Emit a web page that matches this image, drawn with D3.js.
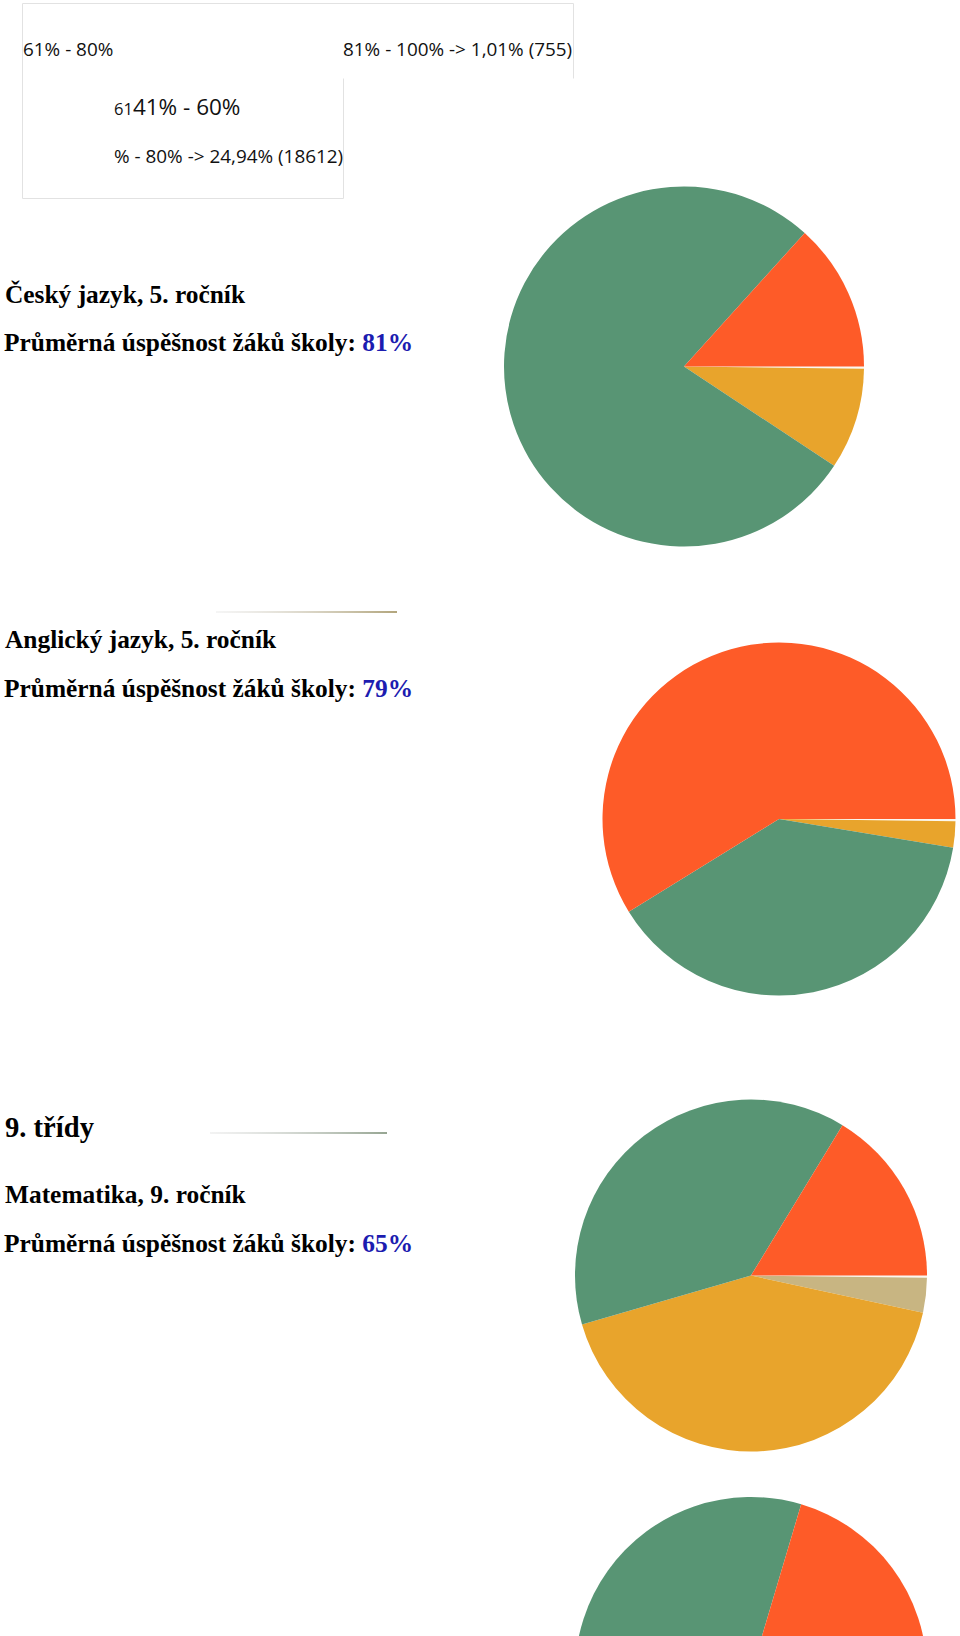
<!DOCTYPE html>
<html>
<head>
<meta charset="utf-8">
<script src="https://cdn.jsdelivr.net/npm/d3@7"></script>
<style>
  html, body { margin: 0; padding: 0; background: #fff; }
  svg { display: block; }
</style>
</head>
<body>
<svg id="chart" width="960" height="1636"></svg>
<script>
// ---- data ----
const bands = ["81% - 100%", "61% - 80%", "41% - 60%", "21% - 40%", "0% - 20%"];
const bandColors = ["#fbf8f0", "#c8b582", "#e8a42c", "#589574", "#fe5b28"];

const subjects = ["Český jazyk, 5. ročník", "Anglický jazyk, 5. ročník", "Matematika, 9. ročník"];
const schoolAverages = ["81%", "79%", "65%"];
const sectionHeading = "9. třídy";

// shares (%) per band, clockwise from 3 o'clock
const czech5 = [0.2, 0, 9.1, 77.4, 13.3];
const english5 = [0.2, 0, 2.4, 38.6, 58.8];
const math9 = [0.2, 3.2, 42.1, 38.2, 16.3];
const nextPie = [0.2, 0, 40.0, 39.4, 20.4];

const legendTop = ["61% - 80%", "81% - 100% -> 1,01% (755)"];
const legendMid = ["61", "41% - 60%"];
const legendBottom = "% - 80% -> 24,94% (18612)";

// ---- drawing ----
const svg = d3.select("#chart");
const sans = "'Open Sans', 'Noto Sans', sans-serif";
const serif = "'Liberation Serif', 'Times New Roman', serif";

// legend box (two overlapping frames)
const frame = svg.append("g").attr("fill", "none").attr("stroke", "#e2e2e2").attr("stroke-width", 1);
frame.append("path").attr("d", "M22.5,3.5 H573.5 V78.5 M22.5,3.5 V198.5 H343.5 V78.5");

svg.append("text").attr("x", 23).attr("y", 56).attr("font-family", sans).attr("font-size", 18.9).attr("fill", "#111").text(legendTop[0]);
svg.append("text").attr("x", 343).attr("y", 56).attr("font-family", sans).attr("font-size", 18.9).attr("fill", "#111").text(legendTop[1]);
const mid = svg.append("text").attr("x", 114).attr("y", 115).attr("font-family", sans).attr("fill", "#111");
mid.append("tspan").attr("font-size", 16.5).text(legendMid[0]);
mid.append("tspan").attr("font-size", 22.5).text(legendMid[1]);
svg.append("text").attr("x", 114).attr("y", 163).attr("font-family", sans).attr("font-size", 18.9).attr("fill", "#111").text(legendBottom);

// titles
function titleBlock(y1, y2, subject, avg) {
  svg.append("text").attr("x", 5).attr("y", y1).attr("font-family", serif).attr("font-weight", "bold")
    .attr("font-size", 25.4).attr("fill", "#000").text(subject);
  const t = svg.append("text").attr("x", 4).attr("y", y2).attr("font-family", serif).attr("font-weight", "bold")
    .attr("font-size", 25.4).attr("fill", "#000");
  t.append("tspan").text("Průměrná úspěšnost žáků školy: ");
  t.append("tspan").attr("fill", "#1c1cb0").text(avg);
}
titleBlock(303, 351, subjects[0], schoolAverages[0]);
titleBlock(648, 697, subjects[1], schoolAverages[1]);
svg.append("text").attr("x", 5).attr("y", 1137).attr("font-family", serif).attr("font-weight", "bold")
  .attr("font-size", 28.6).attr("fill", "#000").text(sectionHeading);
titleBlock(1203, 1252, subjects[2], schoolAverages[2]);

// thin gradient rules
const defs = svg.append("defs");
function rule(id, x1, x2, y, c1, c2) {
  const g = defs.append("linearGradient").attr("id", id).attr("x1", "0%").attr("x2", "100%");
  g.append("stop").attr("offset", "0%").attr("stop-color", c1).attr("stop-opacity", 0.4);
  g.append("stop").attr("offset", "100%").attr("stop-color", c2);
  svg.append("rect").attr("x", x1).attr("y", y - 1).attr("width", x2 - x1).attr("height", 2).attr("fill", `url(#${id})`);
}
rule("r1", 216, 397, 612, "#e6e6e6", "#b2a57c");
rule("r2", 210, 387, 1133, "#e0e0e0", "#96a592");

// pies
const pie = d3.pie().sort(null).value(d => d).startAngle(Math.PI / 2).endAngle(Math.PI / 2 + 2 * Math.PI);
const color = d3.scaleOrdinal().domain(d3.range(bands.length)).range(bandColors);
function drawPie(values, cx, cy, r) {
  const arc = d3.arc().innerRadius(0).outerRadius(r);
  svg.append("g").attr("transform", `translate(${cx},${cy})`)
    .selectAll("path").data(pie(values)).join("path")
    .attr("d", arc).attr("fill", (d, i) => color(i));
}
drawPie(czech5, 684, 366.5, 180);
drawPie(english5, 779, 819, 176.5);
drawPie(math9, 751, 1275.5, 176);
drawPie(nextPie, 751, 1673, 176);
</script>
</body>
</html>
